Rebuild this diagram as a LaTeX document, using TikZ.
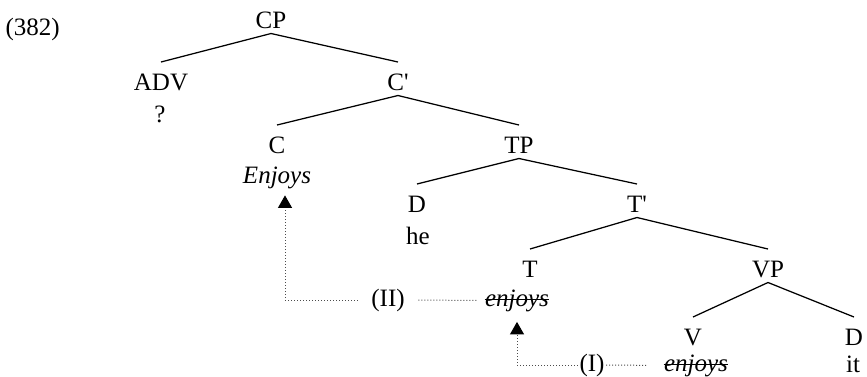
\documentclass[tikz,border=0pt]{standalone}
\usepackage{fontspec}
\setmainfont{Liberation Serif}
\usetikzlibrary{arrows.meta}

\tikzset{
  cat/.style={anchor=base, inner sep=2pt, text height=0.9em, text depth=0pt},
  word/.style={anchor=base, inner sep=2pt},
  branch/.style={line width=0.5pt},
  strike/.style={line width=0.45pt, shorten <=2pt, shorten >=2pt},
  movelbl/.style={anchor=base, inner sep=0.5pt},
  trace/.style={line width=0.4pt, black!70, dash pattern=on 0.4pt off 0.8pt},
  raise/.style={trace, -{Triangle[width=5.6pt,length=5pt,black]}},
}

\begin{document}
\begin{tikzpicture}[x=0.4pt, y=-0.4pt, font=\fontsize{10}{12}\selectfont]
    \useasboundingbox (0,0) rectangle (867,376);
    \node[anchor=base west, inner sep=0pt] (exno) at (5,35) {(382)};

    % categories and words
    \node[cat] (CP) at (271,28) {CP};
    \node[cat] (ADV) at (161,90) {ADV};
    \node[word] (advq) at (160,122) {?};
    \node[cat] (Cbar) at (398,90) {C\textquotesingle};
    \node[cat] (C) at (277,153) {C};
    \node[word] (Cword) at (277,183) {\textit{Enjoys}};
    \node[cat] (TP) at (519,153) {TP};
    \node[cat] (Dsubj) at (417,212) {D};
    \node[word] (he) at (418,244) {he};
    \node[cat] (Tbar) at (637,212) {T\textquotesingle};
    \node[cat] (T) at (530,277) {T};
    \node[word] (Tword) at (517,306) {\textit{enjoys}};
    \node[cat] (VP) at (768,277) {VP};
    \node[cat] (V) at (693,345) {V};
    \node[word] (Vword) at (696,371) {\textit{enjoys}};
    \node[cat] (Dobj) at (854,345) {D};
    \node[word] (it) at (853,372) {it};

    % struck-out copies
    \draw[strike] ([yshift=2.6pt]Tword.base west) -- ([yshift=2.6pt]Tword.base east);
    \draw[strike] ([yshift=2.6pt]Vword.base west) -- ([yshift=2.6pt]Vword.base east);

    % branches
    \draw[branch] (CP.south) -- (ADV.north);
    \draw[branch] (CP.south) -- (Cbar.north);
    \draw[branch] (Cbar.south) -- (C.north);
    \draw[branch] (Cbar.south) -- (TP.north);
    \draw[branch] (TP.south) -- (Dsubj.north);
    \draw[branch] (TP.south) -- (Tbar.north);
    \draw[branch] (Tbar.south) -- (T.north);
    \draw[branch] (Tbar.south) -- (VP.north);
    \draw[branch] (VP.south) -- (V.north);
    \draw[branch] (VP.south) -- (Dobj.north);

    % movement steps
    \node[movelbl] (stepII) at (388,306) {(II)};
    \node[movelbl] (stepI) at (592,371) {(I)};
    \draw[raise, shorten <=4.8pt, shorten >=0.6pt] (stepII.west) -| ([xshift=3.2pt]Cword.south);
    \draw[trace, shorten <=4.8pt, shorten >=1.2pt] (stepII.east) -- (Tword.west);
    \draw[raise, shorten >=2pt] (stepI.west) -| (Tword.south);
    \draw[trace, shorten >=4.4pt] (stepI.east) -- (Vword.west);
  \end{tikzpicture}
\end{document}
